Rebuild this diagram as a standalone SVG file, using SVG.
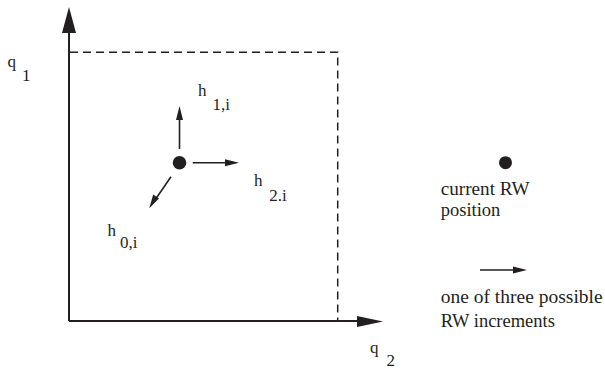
<svg xmlns="http://www.w3.org/2000/svg" width="605" height="370" viewBox="0 0 605 370">
<style>
text{font-family:"Liberation Serif","Times New Roman",serif;fill:#231f20}
.lbl{font-size:17px}
.leg{font-size:18.5px}
.axis{stroke:#231f20;stroke-width:2;fill:none}
.dash{stroke:#231f20;stroke-width:1.5;fill:none;stroke-dasharray:8 5}
.inc{stroke:#231f20;stroke-width:1.6;fill:none}
.head{fill:#231f20}
</style>
<rect width="605" height="370" fill="#fff"/>
<g id="connectors">
<path class="axis" d="M69 321 V30"/>
<polygon class="head" points="69,7 62,33 76,33"/>
<path class="axis" d="M69 321 H360"/>
<polygon class="head" points="383,321.5 357,316 357,327"/>
<path class="dash" d="M70 52.3 H337.7 V321"/>
<path class="inc" d="M179.5 149 V118"/>
<polygon class="head" points="179.5,106 176,120 183,120"/>
<path class="inc" d="M192.7 162.7 H228"/>
<polygon class="head" points="239,162.7 225,159.2 225,166.2"/>
<path class="inc" d="M171 176.7 L156 198.5"/>
<polygon class="head" points="149.3,208.3 153.2,194.5 159.0,198.5"/>
<path class="inc" d="M480 270 H515"/>
<polygon class="head" points="527,270 513,266.5 513,273.5"/>
</g>
<g id="node-position">
<circle cx="179.5" cy="162.7" r="6.8" fill="#231f20"/>
</g>
<g id="label-h1">
<text class="lbl" x="198" y="96">h</text>
<text class="lbl" x="212.5" y="110">1,i</text>
</g>
<g id="label-h2">
<text class="lbl" x="254" y="186">h</text>
<text class="lbl" x="269.3" y="200.5">2.i</text>
</g>
<g id="label-h0">
<text class="lbl" x="107.5" y="236">h</text>
<text class="lbl" x="120" y="247.5">0,i</text>
</g>
<g id="label-q1">
<text class="lbl" x="7.5" y="67">q</text>
<text class="lbl" x="22" y="81">1</text>
</g>
<g id="label-q2">
<text class="lbl" x="370" y="353">q</text>
<text class="lbl" x="386.5" y="366">2</text>
</g>
<g id="legend-position">
<circle cx="505.5" cy="162.7" r="6.5" fill="#231f20"/>
<text class="leg" x="440.7" y="195" textLength="89" lengthAdjust="spacingAndGlyphs">current RW</text>
<text class="leg" x="440.7" y="216">position</text>
</g>
<g id="legend-increment">
<text class="leg" x="440.7" y="303" textLength="162" lengthAdjust="spacingAndGlyphs">one of three possible</text>
<text class="leg" x="440.7" y="326.5">RW increments</text>
</g>
</svg>
